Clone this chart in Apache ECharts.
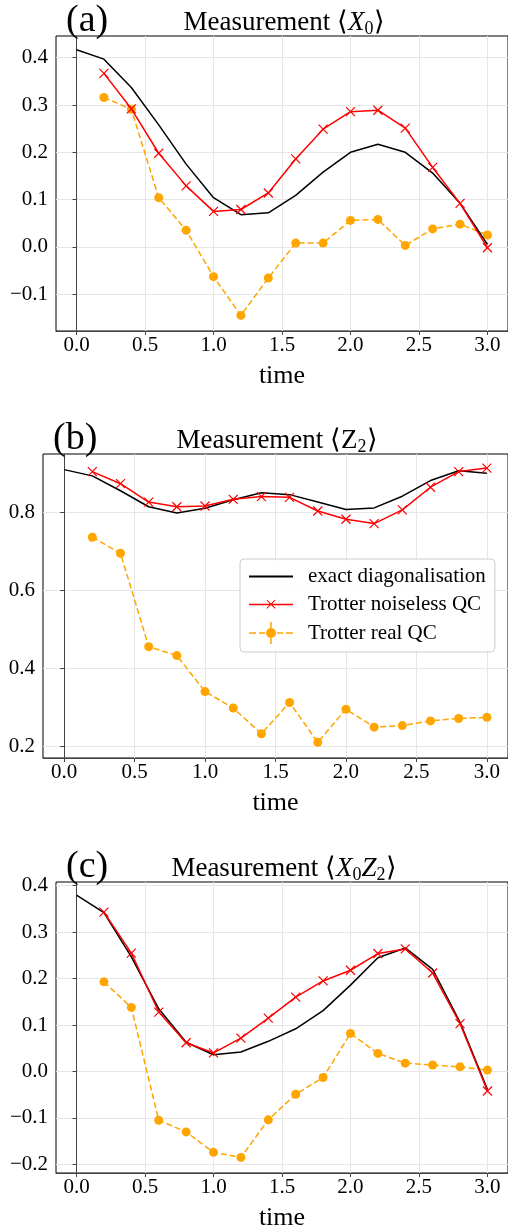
<!DOCTYPE html>
<html>
<head>
<meta charset="utf-8">
<script src="https://cdn.jsdelivr.net/npm/echarts@6/dist/echarts.min.js"></script>
<style>
  html, body { margin: 0; padding: 0; background: #fff; }
  #chart { width: 508px; height: 1232px; }
</style>
</head>
<body>
<div id="chart"></div>
<script>
// time axes
const tExact = [0.0, 0.2, 0.4, 0.6, 0.8, 1.0, 1.2, 1.4, 1.6, 1.8, 2.0, 2.2, 2.4, 2.6, 2.8, 3.0];
const tQC = [0.2, 0.4, 0.6, 0.8, 1.0, 1.2, 1.4, 1.6, 1.8, 2.0, 2.2, 2.4, 2.6, 2.8, 3.0];
const xTicks = [0.0, 0.5, 1.0, 1.5, 2.0, 2.5, 3.0];

// (a) <X0>
const exactX0 = [0.417, 0.397, 0.337, 0.258, 0.175, 0.104, 0.068, 0.072, 0.109, 0.158, 0.200, 0.217, 0.200, 0.156, 0.092, 0.005];
const noiselessX0 = [0.367, 0.292, 0.198, 0.129, 0.075, 0.079, 0.114, 0.186, 0.249, 0.286, 0.289, 0.251, 0.168, 0.092, -0.002];
const realX0 = [0.316, 0.291, 0.104, 0.035, -0.063, -0.145, -0.066, 0.008, 0.008, 0.056, 0.058, 0.003, 0.038, 0.048, 0.025];
const yTicksA = [-0.1, 0.0, 0.1, 0.2, 0.3, 0.4];

// (b) <Z2>
const exactZ2 = [0.909, 0.893, 0.855, 0.814, 0.798, 0.810, 0.832, 0.850, 0.845, 0.826, 0.807, 0.811, 0.841, 0.881, 0.906, 0.900];
const noiselessZ2 = [0.904, 0.873, 0.826, 0.814, 0.816, 0.833, 0.840, 0.838, 0.803, 0.782, 0.771, 0.806, 0.864, 0.904, 0.913];
const realZ2 = [0.736, 0.695, 0.456, 0.433, 0.341, 0.299, 0.233, 0.313, 0.211, 0.296, 0.250, 0.254, 0.266, 0.272, 0.275];
const yTicksB = [0.2, 0.4, 0.6, 0.8];

// (c) <X0 Z2>
const exactX0Z2 = [0.380, 0.342, 0.247, 0.135, 0.063, 0.036, 0.042, 0.065, 0.092, 0.131, 0.186, 0.245, 0.266, 0.220, 0.106, -0.039];
const noiselessX0Z2 = [0.343, 0.255, 0.128, 0.062, 0.040, 0.072, 0.115, 0.160, 0.195, 0.218, 0.254, 0.264, 0.212, 0.103, -0.042];
const realX0Z2 = [0.193, 0.138, -0.105, -0.130, -0.174, -0.185, -0.104, -0.049, -0.013, 0.082, 0.039, 0.018, 0.014, 0.010, 0.003];
const yTicksC = [-0.2, -0.1, 0.0, 0.1, 0.2, 0.3, 0.4];

const seriesNames = ['exact diagonalisation', 'Trotter noiseless QC', 'Trotter real QC'];

const FONT = 'Liberation Serif';
const chart = echarts.init(document.getElementById('chart'));

// panel boxes in px
const panels = [
  { left: 56, top: 36, height: 295, ymin: -0.178, ymax: 0.446, yTicks: yTicksA, data: [exactX0, noiselessX0, realX0] },
  { left: 43, top: 454, height: 304, ymin: 0.171, ymax: 0.949, yTicks: yTicksB, data: [exactZ2, noiselessZ2, realZ2] },
  { left: 56, top: 882, height: 294, ymin: -0.2185, ymax: 0.408, yTicks: yTicksC, data: [exactX0Z2, noiselessX0Z2, realX0Z2] }
];

const fmt = v => v.toFixed(1).replace('-', '\u2212');
const zip = (xs, ys) => xs.map((x, i) => [x, ys[i]]);

const grids = [], xAxes = [], yAxes = [], series = [];
panels.forEach((p, i) => {
  grids.push({
    left: p.left, top: p.top, width: 510 - p.left, height: p.height,
    show: true, borderColor: '#000', borderWidth: 1, backgroundColor: 'transparent'
  });
  xAxes.push({
    gridIndex: i, type: 'value', min: -0.15, max: 3.15,
    name: 'time', nameLocation: 'middle', nameGap: 32,
    nameTextStyle: { fontFamily: FONT, fontSize: 26, color: '#000' },
    axisLine: { onZero: false, lineStyle: { color: '#444', width: 1 } },
    axisTick: { show: true, length: 4, lineStyle: { color: '#444' }, customValues: xTicks },
    axisLabel: { fontFamily: FONT, fontSize: 21, color: '#000', margin: 4, customValues: xTicks, formatter: fmt },
    splitLine: { show: true, lineStyle: { color: '#e6e6e6', width: 1 } }
  });
  yAxes.push({
    gridIndex: i, type: 'value', min: p.ymin, max: p.ymax,
    axisLine: { show: true, lineStyle: { color: '#444', width: 1 } },
    axisTick: { show: true, length: 4, lineStyle: { color: '#444' }, customValues: p.yTicks },
    axisLabel: { fontFamily: FONT, fontSize: 21, color: '#000', margin: 8, customValues: p.yTicks, formatter: fmt },
    splitLine: { show: true, lineStyle: { color: '#e6e6e6', width: 1 } }
  });
  series.push({
    name: seriesNames[0], type: 'line', xAxisIndex: i, yAxisIndex: i,
    data: zip(tExact, p.data[0]), symbol: 'circle', showSymbol: false, color: '#000',
    itemStyle: { color: 'rgba(0,0,0,0)', borderWidth: 0 },
    lineStyle: { color: '#000', width: 1.5 }, z: 3
  });
  series.push({
    name: seriesNames[1], type: 'line', xAxisIndex: i, yAxisIndex: i,
    data: zip(tQC, p.data[1]), color: '#ff0000',
    symbol: 'path://M0,0L10,10M10,0L0,10', symbolSize: 9,
    itemStyle: { color: '#ff0000', borderColor: '#ff0000', borderWidth: 1.2 },
    lineStyle: { color: '#ff0000', width: 1.5 }, z: 4
  });
  series.push({
    name: seriesNames[2], type: 'line', xAxisIndex: i, yAxisIndex: i,
    data: zip(tQC, p.data[2]), color: '#ffa500',
    symbol: 'circle', symbolSize: 9,
    itemStyle: { color: '#ffa500', borderWidth: 0 },
    lineStyle: { color: '#ffa500', width: 1.5, type: [6, 3] }, z: 2
  });
});

// legend icons drawn in a 44x22 box (the lone M points pin the box corners)
const crossIcon = 'path://M0,0 M44,22 M0,10.25L44,10.25L44,11.75L0,11.75Z' +
  'M17.5,7L18.2,6.3L26.5,14.6L25.8,15.3Z M25.8,6.3L26.5,7L18.2,15.3L17.5,14.6Z';
const errorbarIcon = 'path://M0,0 M44,22 M0,10.25L7,10.25L7,11.75L0,11.75Z M10,10.25L16,10.25L16,11.75L10,11.75Z' +
  'M28,10.25L34,10.25L34,11.75L28,11.75Z M37,10.25L44,10.25L44,11.75L37,11.75Z' +
  'M21.25,0L22.75,0L22.75,22L21.25,22Z M17,11A5,5 0 0 1 27,11A5,5 0 0 1 17,11Z';

const rich = {
  n: { fontFamily: FONT, fontSize: 27, fontWeight: 'normal', color: '#000', lineHeight: 30 },
  i: { fontFamily: FONT, fontSize: 27, fontWeight: 'normal', fontStyle: 'italic', color: '#000', lineHeight: 30 },
  s: { fontFamily: FONT, fontSize: 18, fontWeight: 'normal', color: '#000', lineHeight: 20, verticalAlign: 'bottom' }
};
const titleStyle = { fontWeight: 'normal', rich: rich };
const labelStyle = { fontFamily: FONT, fontSize: 38, fontWeight: 'normal', color: '#000' };

chart.setOption({
  animation: false,
  backgroundColor: '#fff',
  title: [
    { text: '(a)', left: 61, top: -3, textStyle: labelStyle },
    { text: '{n|Measurement \u27e8}{i|X}{s|0}{n|\u27e9}', left: 279, top: 3, textAlign: 'center', textStyle: titleStyle },
    { text: '(b)', left: 48, top: 415, textStyle: labelStyle },
    { text: '{n|Measurement \u27e8Z}{s|2}{n|\u27e9}', left: 272, top: 421, textAlign: 'center', textStyle: titleStyle },
    { text: '(c)', left: 61, top: 843, textStyle: labelStyle },
    { text: '{n|Measurement \u27e8}{i|X}{s|0}{i|Z}{s|2}{n|\u27e9}', left: 279, top: 849, textAlign: 'center', textStyle: titleStyle }
  ],
  legend: {
    data: [
      { name: seriesNames[0] },
      { name: seriesNames[1], icon: crossIcon, itemStyle: { borderWidth: 0 } },
      { name: seriesNames[2], icon: errorbarIcon, itemStyle: { borderWidth: 0 } }
    ],
    orient: 'vertical', left: 240, top: 559,
    padding: [7, 9, 8, 8], itemGap: 6.5,
    itemWidth: 44, itemHeight: 22,
    backgroundColor: 'rgba(255,255,255,0.85)',
    borderColor: '#cccccc', borderWidth: 1, borderRadius: 4,
    textStyle: { fontFamily: FONT, fontSize: 21, color: '#000', padding: [0, 0, 0, 10] }
  },
  grid: grids,
  xAxis: xAxes,
  yAxis: yAxes,
  series: series
});
</script>
</body>
</html>
